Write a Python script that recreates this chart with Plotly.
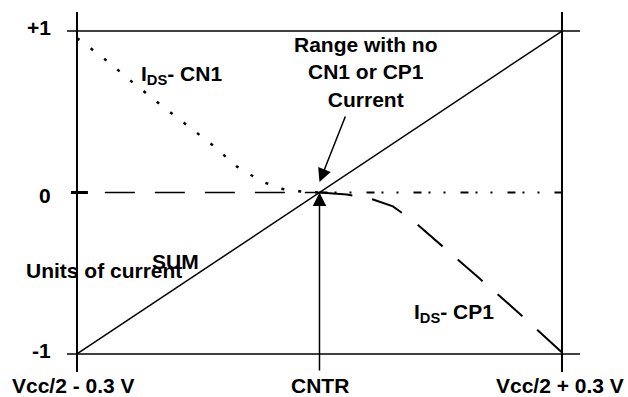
import plotly.graph_objects as go

# ---------------- data ----------------
sum_x = [-1.0, 1.0]
sum_y = [-1.0, 1.0]

cn1_x = [-1.0, -0.988, -0.876, -0.773, -0.666, -0.554, -0.443, -0.340, -0.237, -0.163, -0.10, -0.05, 0.0]
cn1_y = [0.955, 0.944, 0.815, 0.685, 0.556, 0.426, 0.296, 0.160, 0.068, 0.025, 0.010, 0.003, 0.0]
cn1_zero_x = [0.0, 1.0]
cn1_zero_y = [0.0, 0.0]

cp1_zero_x = [-0.885, 0.0]
cp1_zero_y = [0.0, 0.0]
cp1_x = [0.0, 0.113, 0.221, 0.303, 0.39, 0.48, 0.658, 0.823, 1.0]
cp1_y = [0.0, -0.012, -0.043, -0.086, -0.18, -0.296, -0.53, -0.747, -0.99]

xtick_vals = [-1, 0, 1]
xtick_text = ["Vcc/2 - 0.3 V", "CNTR", "Vcc/2 + 0.3 V"]
ytick_vals = [1, 0, -1]
ytick_text = ["+1", "0", "-1"]

# ---------------- figure ----------------
FONT = dict(family="Liberation Sans, Arial, sans-serif", size=21, color="black", weight="bold")
BLACK = "black"

fig = go.Figure()

def line(x, y, width, dash="solid"):
    fig.add_trace(go.Scatter(x=x, y=y, mode="lines",
                             line=dict(color=BLACK, width=width, dash=dash),
                             hoverinfo="skip", showlegend=False))

# frame lines (extend a little beyond the +/-1 box)
ext_x = [-1.041, 1.074]
ext_y = [-1.111, 1.118]
for yv in ytick_vals:
    if yv != 0:
        line(ext_x, [yv, yv], 1.5)
for xv in (xtick_vals[0], xtick_vals[-1]):
    line([xv, xv], ext_y, 2)
# zero tick mark
line([-1.025, -0.955], [0, 0], 3)

# series
line(sum_x, sum_y, 1.5)
line(cn1_x, cn1_y, 2.5, "3px,14px")
line(cn1_zero_x, cn1_zero_y, 2, "8px,7px,2px,13px,2px,15px")
line(cp1_zero_x, cp1_zero_y, 1.5, "30px,20px")
line(cp1_x, cp1_y, 2, "33px,20px")

ann = []
# y tick labels
for v, t, dy in zip(ytick_vals, ytick_text, (4, -3, 3)):
    ann.append(dict(x=-1, y=v, text=t, showarrow=False, xanchor="right", yanchor="middle",
                    xshift=-24, yshift=dy, font=FONT))
# x tick labels
for v, t, dx in zip(xtick_vals, xtick_text, (-3, 1, -2)):
    ann.append(dict(x=v, y=-1, text=t, showarrow=False, xanchor="center", yanchor="middle",
                    xshift=dx, yshift=-32, font=FONT))

# text labels
ann.append(dict(x=0.192, y=0.746, text="Range with no<br>CN1 or CP1<br>Current", showarrow=False,
                xanchor="center", yanchor="middle", font=FONT))
ann.append(dict(x=-0.744, y=0.728, text="I<sub>DS</sub>- CN1", showarrow=False,
                xanchor="left", yanchor="middle", font=FONT))
ann.append(dict(x=0.381, y=-0.746, text="I<sub>DS</sub>- CP1", showarrow=False,
                xanchor="left", yanchor="middle", font=FONT))
ann.append(dict(x=-0.889, y=-0.480, text="Units of current", showarrow=False,
                xanchor="center", yanchor="middle", font=FONT))
ann.append(dict(x=-0.592, y=-0.430, text="SUM", showarrow=False,
                xanchor="center", yanchor="middle", font=FONT))

# arrows
ann.append(dict(x=0.0, y=0.065, ax=0.109, ay=0.48, axref="x", ayref="y", xref="x", yref="y",
                text="", showarrow=True, arrowhead=2, arrowsize=1.8, arrowwidth=1.5,
                arrowcolor=BLACK, standoff=0, startstandoff=0))
ann.append(dict(x=0.0, y=0.0, ax=0.0, ay=-1.111, axref="x", ayref="y", xref="x", yref="y",
                text="", showarrow=True, arrowhead=2, arrowsize=1.8, arrowwidth=1.5,
                arrowcolor=BLACK, standoff=0, startstandoff=0))

fig.update_layout(
    width=628, height=397,
    margin=dict(l=0, r=0, t=0, b=0),
    paper_bgcolor="white", plot_bgcolor="white",
    xaxis=dict(range=[-1.3175, 1.2722], visible=False, fixedrange=True),
    yaxis=dict(range=[-1.2663, 1.1920], visible=False, fixedrange=True),
    annotations=ann,
    showlegend=False,
)

fig.write_html("out.html", config={"displayModeBar": False})
